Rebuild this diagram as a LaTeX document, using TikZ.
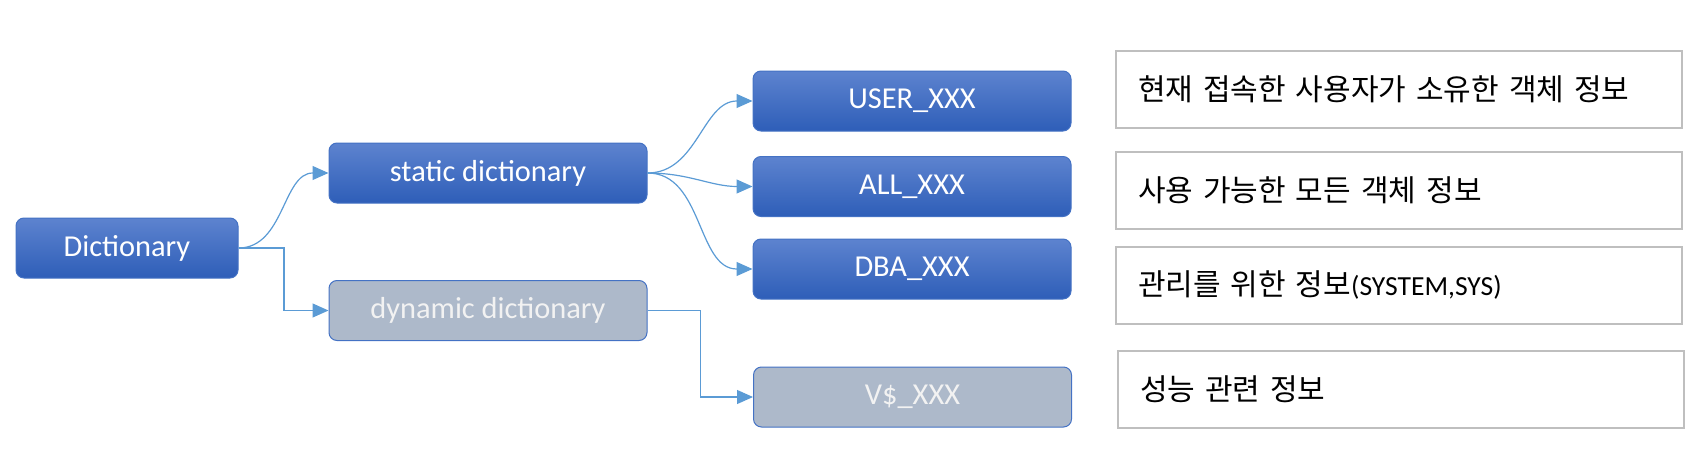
\documentclass[tikz,border=0pt]{standalone}
\usepackage{fontspec}
\setmainfont{Carlito}
\newfontfamily\kr[WordSpace=1.5]{Noto Sans CJK KR}
\usetikzlibrary{arrows.meta}
\definecolor{bluetop}{RGB}{93,131,207}
\definecolor{bluebot}{RGB}{46,94,184}
\definecolor{blueline}{RGB}{68,114,196}
\definecolor{greyfill}{RGB}{173,185,202}
\definecolor{arrowblue}{RGB}{91,155,213}
\definecolor{noteline}{RGB}{191,191,191}
\begin{document}
\begin{tikzpicture}[
	x=0.5pt,y=-0.5pt,
	font=\fontsize{15.2}{18}\selectfont,
	box/.style={rectangle,rounded corners=4pt,draw=blueline,line width=0.5pt,minimum height=30pt,minimum width=159pt,inner sep=0pt},
	bl/.style={box,top color=bluetop,bottom color=bluebot,text=white},
	gr/.style={box,fill=greyfill,text=white!95!black},
	nt/.style={rectangle,draw=noteline,line width=1pt,minimum height=38.5pt,text width=261pt,inner xsep=11pt,inner ysep=0pt,align=left,font=\kr\fontsize{15}{18}\selectfont},
	ln/.style={draw=arrowblue,line width=0.6pt,-{Triangle[length=8pt,width=7pt]}},
	]
\useasboundingbox (0,0) rectangle (1702,466);
\node [bl,minimum width=111pt] (dict) at (127,248) {Dictionary};
\node [bl] (static) at (488,173) {static dictionary};
\node [gr] (dynamic) at (488,310.5) {dynamic dictionary};
\node [bl] (user) at (912,101) {USER\_XXX};
\node [bl] (all) at (912,186.5) {ALL\_XXX};
\node [bl] (dba) at (912,269) {DBA\_XXX};
\node [gr] (vdollar) at (912.5,397) {V\$\_XXX};
\node [nt] (usernote) at (1399,89.5) {현재 접속한 사용자가 소유한 객체 정보};
\node [nt] (allnote) at (1399,190.5) {사용 가능한 모든 객체 정보};
\node [nt] (dbanote) at (1399,285.5) {관리를 위한 정보{\rmfamily\fontsize{13.8}{16}\selectfont(SYSTEM,SYS)}};
\node [nt] (vnote) at (1401,389.5) {성능 관련 정보};
\draw [ln] (dict.east) to [out=0,in=180] (static.west);
\draw [ln] (dict.east) -- ++(45.5,0) |- (dynamic.west);
\draw [ln] (static.east) to [out=0,in=180] (user.west);
\draw [ln] (static.east) to [out=0,in=180] (all.west);
\draw [ln] (static.east) to [out=0,in=180] (dba.west);
\draw [ln] (dynamic.east) -- ++(53,0) |- (vdollar.west);
\end{tikzpicture}
\end{document}
